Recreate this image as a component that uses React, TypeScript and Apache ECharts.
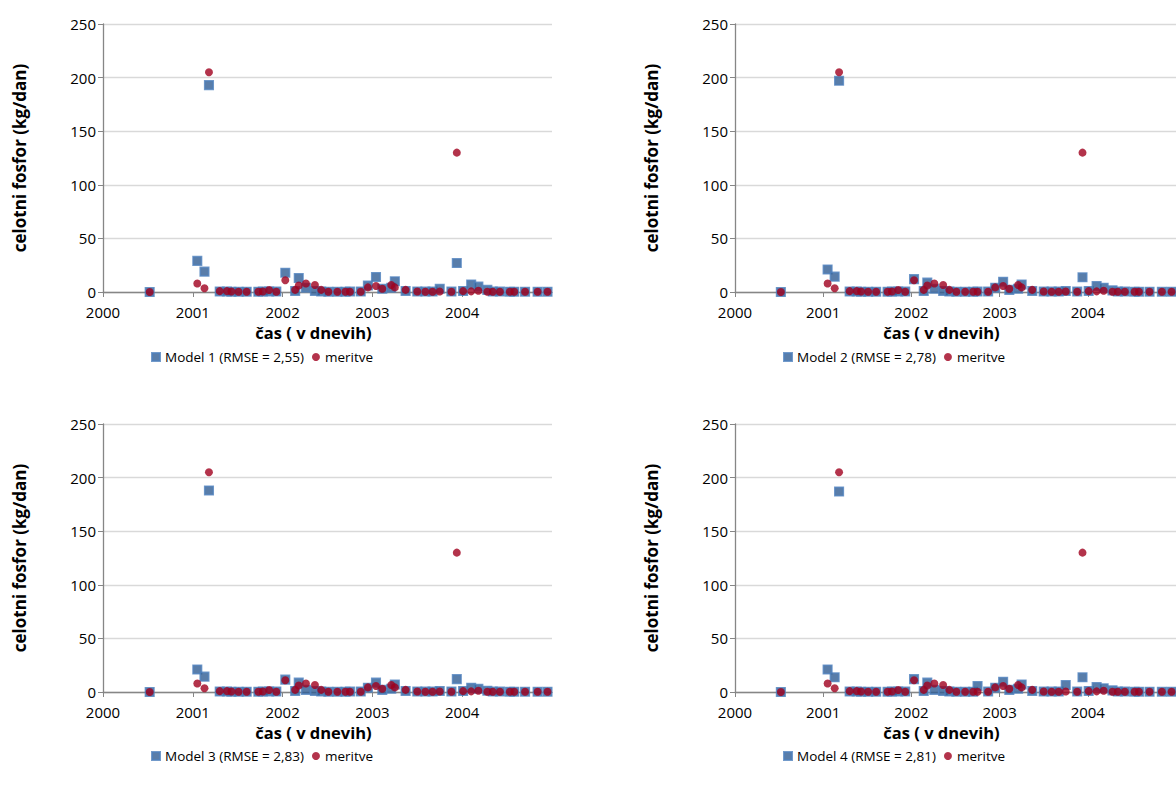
import React, { useEffect, useRef } from "react";
import * as echarts from "echarts";

const years = [
  2000.52, 2001.05, 2001.13, 2001.18, 2001.3, 2001.38, 2001.43, 2001.51, 2001.6, 2001.73,
  2001.78, 2001.85, 2001.93, 2002.03, 2002.14, 2002.18, 2002.26, 2002.36, 2002.43, 2002.51,
  2002.61, 2002.7, 2002.75, 2002.87, 2002.95, 2003.04, 2003.11, 2003.21, 2003.25, 2003.37,
  2003.5, 2003.59, 2003.67, 2003.75, 2003.88, 2003.94, 2004.01, 2004.1, 2004.18, 2004.28,
  2004.34, 2004.42, 2004.53, 2004.58, 2004.7, 2004.84, 2004.95,
];

const meritve = [
  0, 8, 3.5, 205, 0.8, 0.8, 0.5, 0.3, 0.3, 0.3,
  0.5, 1.8, 0.3, 11, 2, 6, 8, 6.5, 2, 0.3,
  0.3, 0.3, 0.3, 0.3, 4.3, 5.6, 3, 6.5, 4.3, 2,
  0.5, 0.3, 0.3, 0.5, 0.3, 130, 0.8, 0.6, 1.2, 0.3,
  0.2, 0.2, 0.2, 0.2, 0.2, 0.2, 0.2,
];

const model1 = [
  0, 29, 19, 193, 0.5, 0.4, 0.3, 0.3, 0.3, 0.3,
  0.4, 0.5, 0.4, 18, 1, 13, 4, 1, 0.5, 0.3,
  0.3, 0.3, 0.4, 0.5, 6, 14, 3, 4, 10, 1,
  0.5, 0.4, 0.5, 3, 0.5, 27, 1, 7, 5, 2,
  0.5, 0.4, 0.3, 0.3, 0.3, 0.3, 0.3,
];

const model2 = [
  0, 21, 14.3, 197, 0.5, 0.4, 0.3, 0.3, 0.3, 0.3,
  0.4, 0.5, 0.4, 12, 1, 8.7, 3, 1, 0.5, 0.3,
  0.3, 0.3, 0.4, 0.5, 4, 9.6, 2, 3, 7, 1,
  0.5, 0.4, 0.5, 1, 0.5, 13.7, 1, 5.6, 4, 1.5,
  0.5, 0.4, 0.3, 0.3, 0.3, 0.3, 0.3,
];

const model3 = [
  0, 21, 14.3, 188, 0.5, 0.4, 0.3, 0.3, 0.3, 0.3,
  0.4, 0.5, 0.4, 11.5, 1, 8.7, 2, 1, 0.5, 0.3,
  0.3, 0.3, 0.4, 0.5, 4, 8.7, 2, 3, 7, 1,
  0.5, 0.4, 0.5, 1, 0.5, 12, 1, 4, 3, 1.2,
  0.5, 0.4, 0.3, 0.3, 0.3, 0.3, 0.3,
];

const model4 = [
  0, 21, 13.7, 187, 0.5, 0.4, 0.3, 0.3, 0.3, 0.3,
  0.4, 0.5, 0.4, 12, 1, 8.7, 2, 1, 0.5, 0.3,
  0.3, 0.3, 5.6, 0.5, 4, 9.6, 2, 3, 7, 1,
  0.5, 0.4, 0.5, 6.5, 0.5, 13.7, 1, 4.6, 3.5, 1.5,
  0.5, 0.4, 0.3, 0.3, 0.3, 0.3, 0.3,
];

const modelNames = [
  "Model 1 (RMSE = 2,55)",
  "Model 2 (RMSE = 2,78)",
  "Model 3 (RMSE = 2,83)",
  "Model 4 (RMSE = 2,81)",
];
const measName = "meritve";
const xTicks = [2000, 2001, 2002, 2003, 2004];
const xTitle = "čas ( v dnevih)";
const yTitle = "celotni fosfor (kg/dan)";

const FONT = "Open Sans";

export default function App() {
  const ref = useRef<HTMLDivElement>(null);

  useEffect(() => {
    if (!ref.current) return;
    const chart = echarts.init(ref.current, null, { renderer: "svg" });
    const models = [model1, model2, model3, model4];
    const panels = [
      { left: 103, top: 24, legendLeft: 146, legendTop: 345 },
      { left: 735, top: 24, legendLeft: 778, legendTop: 345 },
      { left: 103, top: 424, legendLeft: 146, legendTop: 744 },
      { left: 735, top: 424, legendLeft: 778, legendTop: 744 },
    ];
    const axisColor = "#868686";

    const option: any = {
      animation: false,
      backgroundColor: "#ffffff",
      textStyle: { fontFamily: FONT },
      grid: panels.map((p) => ({ left: p.left, top: p.top, width: 449, height: 268 })),
      xAxis: panels.map((_, i) => ({
        type: "value",
        gridIndex: i,
        min: 2000,
        max: 2005,
        interval: 1,
        splitLine: { show: false },
        axisLine: { show: true, onZero: false, lineStyle: { color: axisColor, width: 1.3 } },
        axisTick: { show: true, length: 5, customValues: xTicks, lineStyle: { color: axisColor } },
        axisLabel: {
          customValues: xTicks,
          color: "#000",
          fontSize: 15,
          fontFamily: FONT,
          margin: 12,
          formatter: (v: number) => (v >= 2005 ? "" : String(v)),
        },
        name: xTitle,
        nameLocation: "middle",
        nameGap: 32,
        nameTextStyle: {
          color: "#000",
          fontSize: 16.5,
          fontWeight: "bold",
          fontFamily: FONT,
          padding: [0, 28, 0, 0],
        },
      })),
      yAxis: panels.map((_, i) => ({
        type: "value",
        gridIndex: i,
        min: 0,
        max: 250,
        interval: 50,
        splitLine: { show: true, lineStyle: { color: "#D9D9D9", width: 1.3 } },
        axisLine: { show: true, lineStyle: { color: axisColor, width: 1.3 } },
        axisTick: { show: true, length: 5, lineStyle: { color: axisColor } },
        axisLabel: { color: "#000", fontSize: 15, fontFamily: FONT, margin: 7 },
        name: yTitle,
        nameLocation: "middle",
        nameGap: 75,
        nameTextStyle: { color: "#000", fontSize: 17, fontWeight: "bold", fontFamily: FONT },
      })),
      legend: panels.map((p, i) => ({
        data: [modelNames[i], measName],
        left: p.legendLeft,
        top: p.legendTop,
        itemWidth: 8,
        itemHeight: 8,
        itemGap: 8,
        selectedMode: false,
        textStyle: { color: "#000", fontSize: 13.5, fontFamily: FONT },
      })),
      series: [
        ...models.map((m, i) => ({
          type: "scatter",
          name: modelNames[i],
          xAxisIndex: i,
          yAxisIndex: i,
          symbol: "rect",
          symbolSize: 8.5,
          z: 2,
          itemStyle: { color: "#2F5C93", borderColor: "#4F81BD", borderWidth: 1.6 },
          data: years.map((t, k) => [t, m[k]]),
        })),
        ...models.map((_, i) => ({
          type: "scatter",
          name: measName,
          xAxisIndex: i,
          yAxisIndex: i,
          symbol: "circle",
          symbolSize: 8,
          z: 3,
          itemStyle: { color: "#A0001E" },
          data: years.map((t, k) => [t, meritve[k]]),
        })),
      ],
    };
    chart.setOption(option);
    return () => chart.dispose();
  }, []);

  return (
    <div
      ref={ref}
      style={{ position: "fixed", left: 0, top: 0, width: 1176, height: 794, background: "#fff" }}
    />
  );
}
